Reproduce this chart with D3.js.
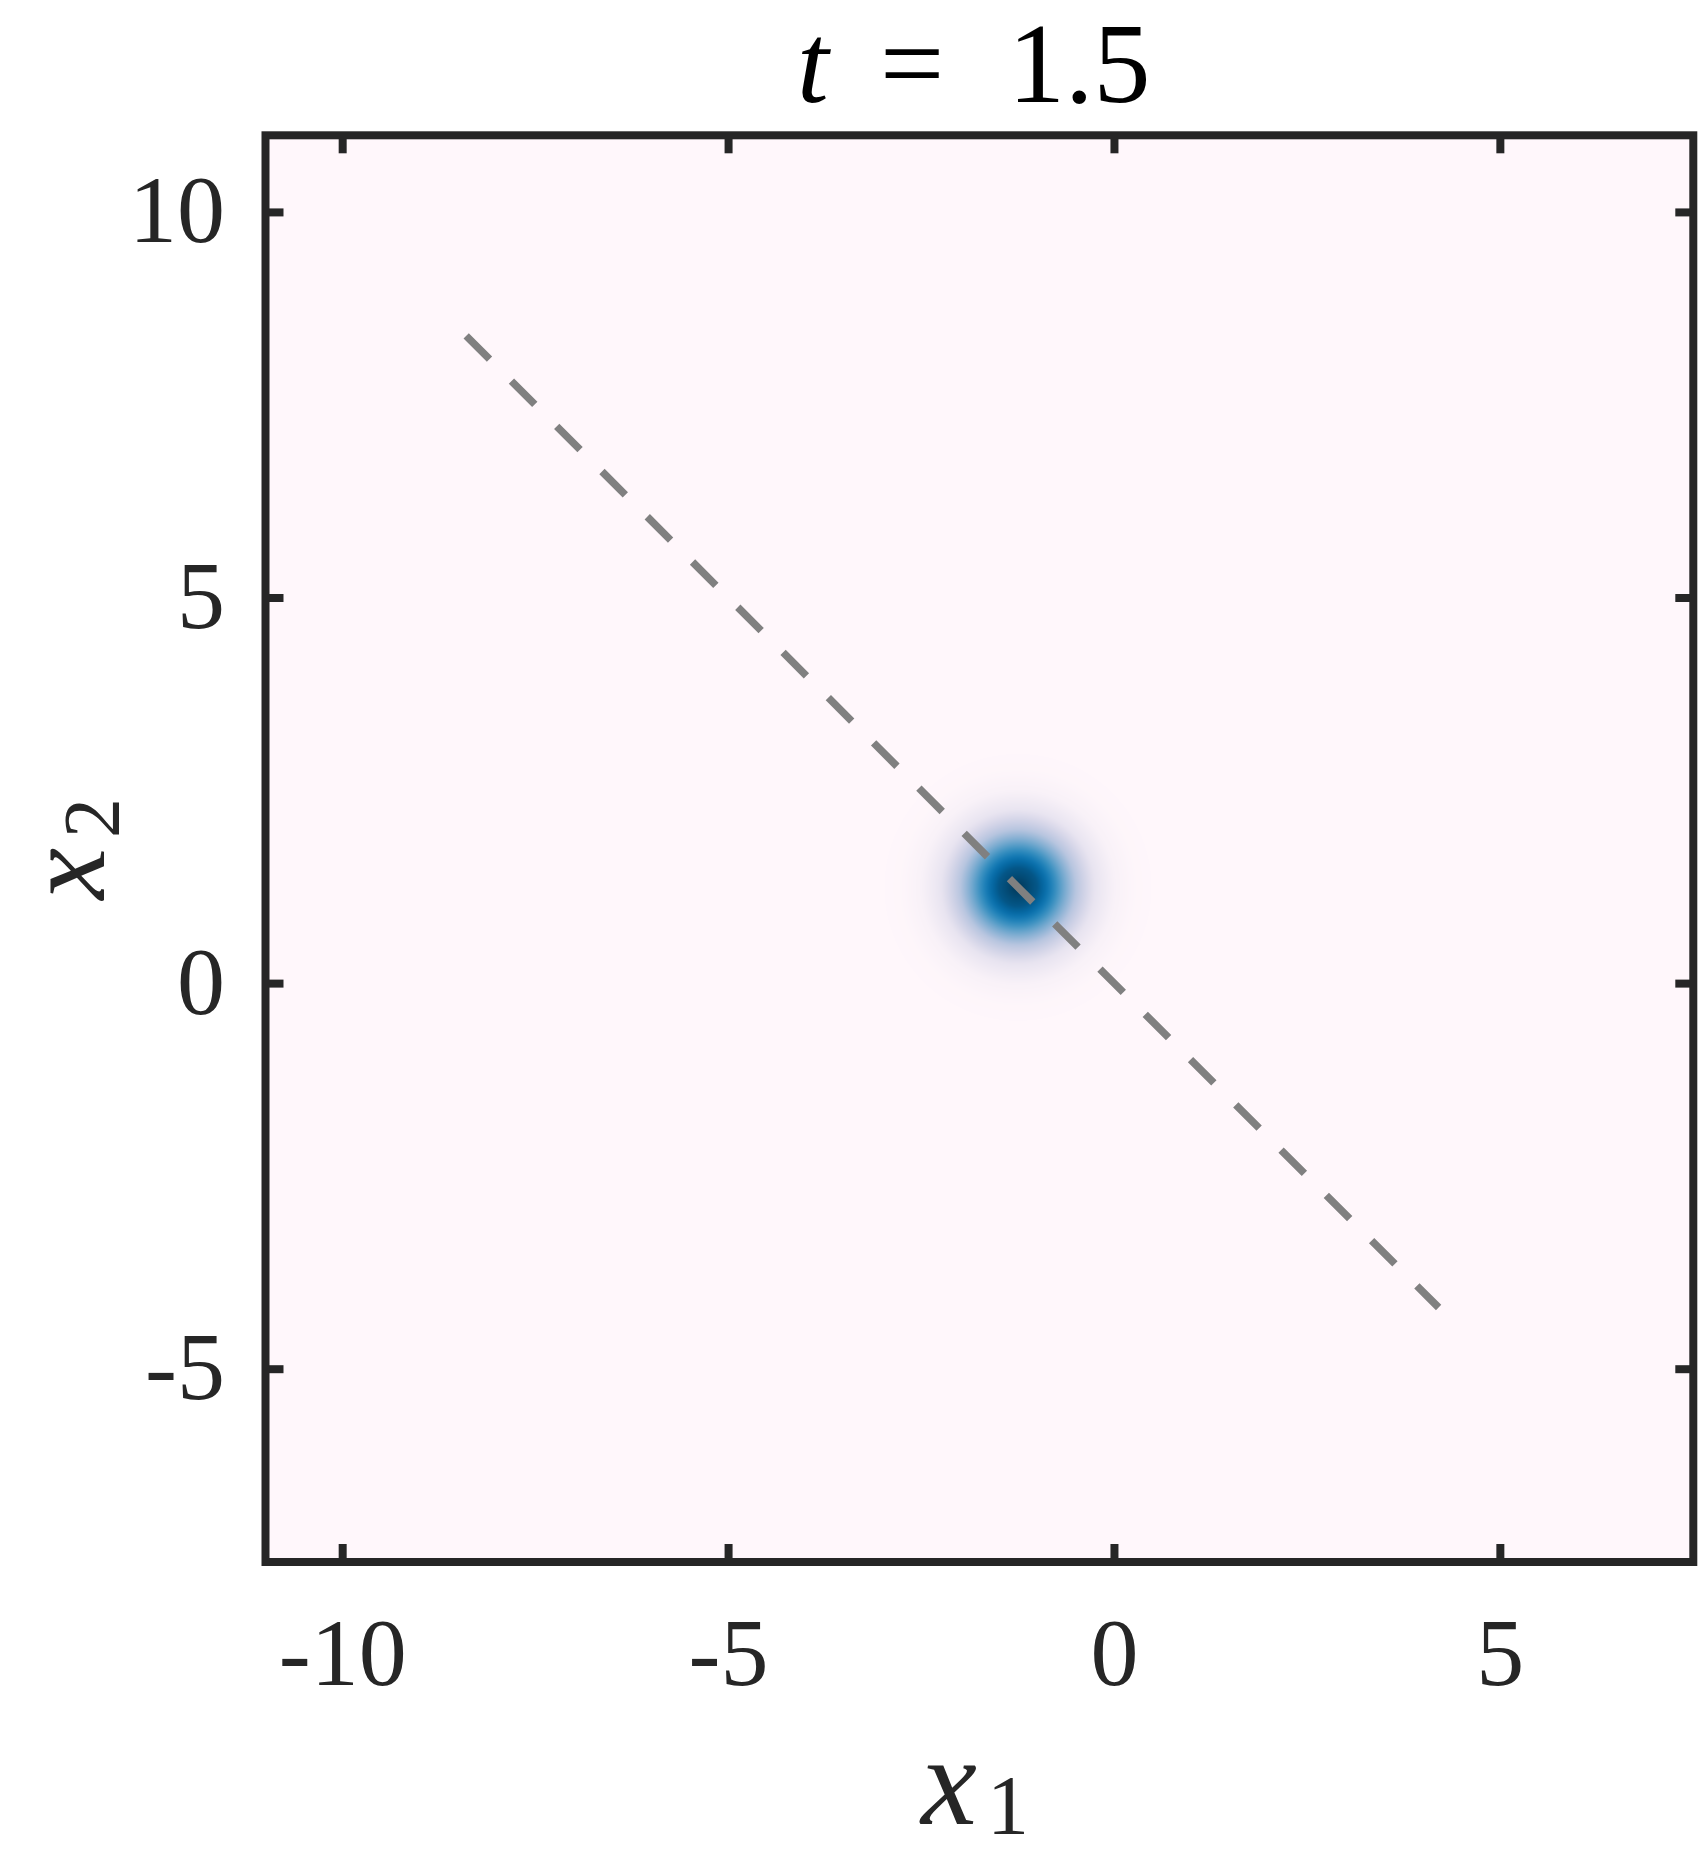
<!DOCTYPE html>
<html>
<head>
<meta charset="utf-8">
<script src="https://cdn.jsdelivr.net/npm/d3@7"></script>
<style>
  html, body { margin: 0; padding: 0; background: #ffffff; }
  svg { display: block; }
</style>
</head>
<body>
<script>
// ---- data ----
const xDomain = [-11, 7.5];
const yDomain = [-7.5, 11];
const xTicks = [-10, -5, 0, 5];
const yTicks = [-5, 0, 5, 10];
const xTickLabels = ["-10", "-5", "0", "5"];
const yTickLabels = ["-5", "0", "5", "10"];
// density blob centre (data units)
const blobCenter = [-1.25, 1.25];
// radial profile of the density (radius in data units, normalised value)
const profileRadius = [0, 0.25, 0.5, 0.75, 1.0, 1.25, 1.5, 1.75, 2.0, 2.5];
const profileValue  = [1, 0.88, 0.61, 0.32, 0.135, 0.044, 0.011, 0.0025, 0.0005, 0];
// dashed reference line endpoints (x1, x2)
const lineX = [-8.4, 4.2];
const lineY = [8.4, -4.2];
const titleTime = "1.5";

// ---- layout ----
const W = 1700, H = 1854;
const plot = { left: 265.5, right: 1693.3, top: 135.3, bottom: 1562 };
const ink = "#262626";

const svg = d3.select("body").append("svg").attr("width", W).attr("height", H);
svg.append("rect").attr("width", W).attr("height", H).attr("fill", "#ffffff");

const x = d3.scaleLinear().domain(xDomain).range([plot.left, plot.right]);
const y = d3.scaleLinear().domain(yDomain).range([plot.bottom, plot.top]);

// ---- heatmap via canvas ----
const pw = Math.round(plot.right - plot.left), ph = Math.round(plot.bottom - plot.top);
const canvas = document.createElement("canvas");
canvas.width = pw; canvas.height = ph;
const ctx = canvas.getContext("2d");
const img = ctx.createImageData(pw, ph);
const prof = d3.scaleLinear().domain(profileRadius).range(profileValue).clamp(true);
const color = d3.scaleSequential(d3.interpolatePuBu).domain([0, 1]);
const lut = d3.range(1024).map(i => d3.rgb(color(i / 1023)));
for (let j = 0; j < ph; j++) {
  const dy = y.invert(plot.top + j + 0.5) - blobCenter[1];
  for (let i = 0; i < pw; i++) {
    const dx = x.invert(plot.left + i + 0.5) - blobCenter[0];
    const v = prof(Math.sqrt(dx * dx + dy * dy));
    const c = lut[Math.round(v * 1023)];
    const k = (j * pw + i) * 4;
    img.data[k] = c.r; img.data[k + 1] = c.g; img.data[k + 2] = c.b; img.data[k + 3] = 255;
  }
}
ctx.putImageData(img, 0, 0);
svg.append("image")
  .attr("x", plot.left).attr("y", plot.top)
  .attr("width", pw).attr("height", ph)
  .attr("preserveAspectRatio", "none")
  .attr("href", canvas.toDataURL());

// ---- dashed line ----
svg.append("line")
  .attr("x1", x(lineX[0])).attr("y1", y(lineY[0]))
  .attr("x2", x(lineX[1])).attr("y2", y(lineY[1]))
  .attr("stroke", "#808080").attr("stroke-width", 7.5)
  .attr("stroke-dasharray", "33 31").attr("stroke-linecap", "butt");

// ---- ticks (inside, all four sides) ----
const tl = 18, tw = 8;
const g = svg.append("g").attr("stroke", ink).attr("stroke-width", tw);
xTicks.forEach(t => {
  g.append("line").attr("x1", x(t)).attr("x2", x(t)).attr("y1", plot.bottom).attr("y2", plot.bottom - tl);
  g.append("line").attr("x1", x(t)).attr("x2", x(t)).attr("y1", plot.top).attr("y2", plot.top + tl);
});
yTicks.forEach(t => {
  g.append("line").attr("y1", y(t)).attr("y2", y(t)).attr("x1", plot.left).attr("x2", plot.left + tl);
  g.append("line").attr("y1", y(t)).attr("y2", y(t)).attr("x1", plot.right).attr("x2", plot.right - tl);
});

// ---- frame ----
svg.append("rect")
  .attr("x", plot.left).attr("y", plot.top)
  .attr("width", plot.right - plot.left).attr("height", plot.bottom - plot.top)
  .attr("fill", "none").attr("stroke", ink).attr("stroke-width", 8);

// ---- tick labels ----
const font = "'Liberation Serif', 'DejaVu Serif', serif";
svg.append("g").selectAll("text").data(xTicks).join("text")
  .attr("x", d => x(d)).attr("y", 1685)
  .attr("text-anchor", "middle")
  .attr("font-family", font).attr("font-size", 96).attr("fill", ink)
  .text((d, i) => xTickLabels[i]);
svg.append("g").selectAll("text").data(yTicks).join("text")
  .attr("x", 225).attr("y", d => y(d) + 30)
  .attr("text-anchor", "end")
  .attr("font-family", font).attr("font-size", 96).attr("fill", ink)
  .text((d, i) => yTickLabels[i]);

// ---- title ----
const title = svg.append("g").attr("font-family", font).attr("fill", "#000000").attr("font-size", 114);
title.append("text").attr("x", 797).attr("y", 102).attr("font-style", "italic").text("t");
title.append("text").attr("x", 880).attr("y", 102).text("=");
title.append("text").attr("x", 1008).attr("y", 102).text(titleTime);

// ---- axis labels ----
const xl = svg.append("text").attr("x", 975).attr("y", 1824)
  .attr("text-anchor", "middle").attr("font-family", font).attr("fill", ink);
xl.append("tspan").attr("font-style", "italic").attr("font-size", 126).text("x");
xl.append("tspan").attr("font-size", 84).attr("dx", 10).attr("dy", 10).text("1");

const yl = svg.append("text").attr("transform", `translate(104, ${(plot.top + plot.bottom) / 2}) rotate(-90)`)
  .attr("text-anchor", "middle").attr("font-family", font).attr("fill", ink);
yl.append("tspan").attr("font-style", "italic").attr("font-size", 116).text("x");
yl.append("tspan").attr("font-size", 80).attr("dx", 10).attr("dy", 15).text("2");
</script>
</body>
</html>
